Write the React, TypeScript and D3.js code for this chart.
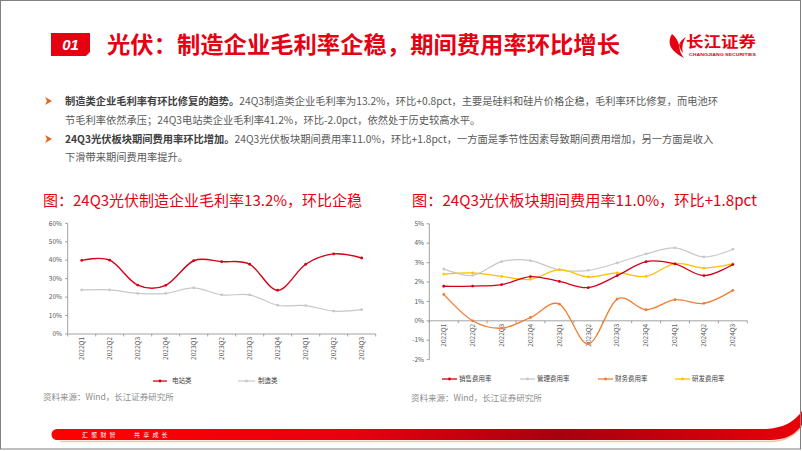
import React from "react";
import * as d3 from "d3";

const quarters = ["2022Q1","2022Q2","2022Q3","2022Q4","2023Q1","2023Q2","2023Q3","2023Q4","2024Q1","2024Q2","2024Q3"];
// left chart: gross margin (%)
const powerStation = [39.9, 40.0, 26.5, 26.4, 39.7, 39.2, 37.8, 23.7, 37.8, 43.4, 41.2];
const manufacturing = [23.9, 23.9, 22.0, 22.0, 25.0, 21.2, 21.2, 15.6, 15.4, 12.4, 13.2];
const leftTicks = [0, 10, 20, 30, 40, 50, 60];
// right chart: expense ratios (%)
const salesRate = [1.78, 1.79, 1.86, 2.28, 2.03, 1.71, 2.33, 3.05, 2.93, 2.33, 2.9];
const mgmtRate = [2.67, 2.34, 3.05, 3.1, 2.62, 2.6, 2.98, 3.45, 3.76, 3.29, 3.69];
const finRate = [1.36, 0.0, -0.38, 0.17, 0.86, -1.19, 1.12, 0.57, 1.09, 0.9, 1.57];
const rdRate = [2.41, 2.47, 2.29, 2.14, 2.64, 2.26, 2.47, 2.29, 2.95, 2.72, 2.93];
const rightTicks = [-2, -1, 0, 1, 2, 3, 4, 5];

const FONT = "'Noto Sans CJK SC', 'Noto Sans', sans-serif";
const RED = "#e60012";

const curve = d3.curveCardinal.tension(0);

function LineSeries({ data, x, y, color, width = 1.3 }: any) {
  const line = d3.line<number>()
    .x((_, i) => (x(quarters[i]) as number) + x.bandwidth() / 2)
    .y((d) => y(d))
    .curve(curve);
  return (
    <g>
      <path d={line(data) || ""} fill="none" stroke={color} strokeWidth={width} />
      {data.map((d: number, i: number) => (
        <circle key={i} cx={(x(quarters[i]) as number) + x.bandwidth() / 2} cy={y(d)} r={1.4} fill={color} />
      ))}
    </g>
  );
}

function LeftChart() {
  const x = d3.scaleBand<string>().domain(quarters).range([67.7, 375.7]).padding(0);
  const y = d3.scaleLinear().domain([0, 60]).range([334, 223.3]);
  const boundaries = quarters.map((q) => x(q) as number).concat([375.7]);
  return (
    <g>
      <text x={43} y={206} fontFamily={FONT} fontSize={15} fill={RED}>图：24Q3光伏制造企业毛利率13.2%，环比企稳</text>
      <line x1={67.7} x2={67.7} y1={y(60)} y2={y(0)} stroke="#8c8c8c" strokeWidth={0.8} />
      {leftTicks.map((t) => (
        <g key={t}>
          <line x1={65} x2={67.7} y1={y(t)} y2={y(t)} stroke="#8c8c8c" strokeWidth={0.8} />
          <text x={62} y={y(t)} dy="0.35em" textAnchor="end" fontFamily={FONT} fontSize={6.5} fill="#595959">{t}%</text>
        </g>
      ))}
      <line x1={67.7} x2={375.7} y1={y(0)} y2={y(0)} stroke="#8c8c8c" strokeWidth={0.8} />
      {boundaries.map((b, i) => (
        <line key={i} x1={b} x2={b} y1={y(0)} y2={y(0) + 2.5} stroke="#8c8c8c" strokeWidth={0.8} />
      ))}
      {quarters.map((q) => (
        <text key={q} transform={`translate(${(x(q) as number) + x.bandwidth() / 2},${y(0) + 3}) rotate(-90)`}
          textAnchor="end" dy="0.35em" fontFamily={FONT} fontSize={6.5} fill="#595959">{q}</text>
      ))}
      <LineSeries data={manufacturing} x={x} y={y} color="#c8c8c8" width={1.2} />
      <LineSeries data={powerStation} x={x} y={y} color="#d40018" width={1.4} />
      {/* legend */}
      <line x1={153} x2={167} y1={381} y2={381} stroke="#d40018" strokeWidth={1.3} />
      <circle cx={160} cy={381} r={1.4} fill="#d40018" />
      <text x={172} y={381} dy="0.35em" fontFamily={FONT} fontSize={6.5} fill="#404040">电站类</text>
      <line x1={238} x2={255} y1={381} y2={381} stroke="#c8c8c8" strokeWidth={1.2} />
      <circle cx={246.5} cy={381} r={1.4} fill="#c8c8c8" />
      <text x={258} y={381} dy="0.35em" fontFamily={FONT} fontSize={6.5} fill="#404040">制造类</text>
      <text x={43} y={397} dy="0.35em" fontFamily={FONT} fontSize={8.5} fill="#8c8c8c">资料来源：Wind，长江证券研究所</text>
    </g>
  );
}

function RightChart() {
  const x = d3.scaleBand<string>().domain(quarters).range([429.3, 747.3]).padding(0);
  const y = d3.scaleLinear().domain([-2, 5]).range([359.6, 223.8]);
  const boundaries = quarters.map((q) => x(q) as number).concat([747.3]);
  const legend = [
    { name: "销售费用率", color: "#d40018", x: 442 },
    { name: "管理费用率", color: "#c8c8c8", x: 520 },
    { name: "财务费用率", color: "#f07d32", x: 598 },
    { name: "研发费用率", color: "#ffc000", x: 675 },
  ];
  return (
    <g>
      <text x={412} y={206} fontFamily={FONT} fontSize={15.2} fill={RED}>图：24Q3光伏板块期间费用率11.0%，环比+1.8pct</text>
      <line x1={429.3} x2={429.3} y1={y(5)} y2={y(-2)} stroke="#8c8c8c" strokeWidth={0.8} />
      {rightTicks.map((t) => (
        <g key={t}>
          <line x1={426.5} x2={429.3} y1={y(t)} y2={y(t)} stroke="#8c8c8c" strokeWidth={0.8} />
          <text x={424} y={y(t)} dy="0.35em" textAnchor="end" fontFamily={FONT} fontSize={6.5} fill="#595959">{t}%</text>
        </g>
      ))}
      <line x1={429.3} x2={747.3} y1={y(0)} y2={y(0)} stroke="#8c8c8c" strokeWidth={0.8} />
      {boundaries.map((b, i) => (
        <line key={i} x1={b} x2={b} y1={y(0)} y2={y(0) + 2.5} stroke="#8c8c8c" strokeWidth={0.8} />
      ))}
      {quarters.map((q) => (
        <text key={q} transform={`translate(${(x(q) as number) + x.bandwidth() / 2},${y(0) + 3}) rotate(-90)`}
          textAnchor="end" dy="0.35em" fontFamily={FONT} fontSize={6.5} fill="#595959">{q}</text>
      ))}
      <LineSeries data={mgmtRate} x={x} y={y} color="#c8c8c8" width={1.2} />
      <LineSeries data={rdRate} x={x} y={y} color="#ffc000" width={1.3} />
      <LineSeries data={finRate} x={x} y={y} color="#f07d32" width={1.3} />
      <LineSeries data={salesRate} x={x} y={y} color="#d40018" width={1.3} />
      {legend.map((l) => (
        <g key={l.name}>
          <line x1={l.x} x2={l.x + 15} y1={379} y2={379} stroke={l.color} strokeWidth={1.3} />
          <circle cx={l.x + 7.5} cy={379} r={1.4} fill={l.color} />
          <text x={l.x + 17} y={379} dy="0.35em" fontFamily={FONT} fontSize={6.5} fill="#404040">{l.name}</text>
        </g>
      ))}
      <text x={411} y={398} dy="0.35em" fontFamily={FONT} fontSize={8.5} fill="#8c8c8c">资料来源：Wind，长江证券研究所</text>
    </g>
  );
}

function Bullets() {
  const lines = [
    { y: 101, arrow: true, bold: "制造类企业毛利率有环比修复的趋势。", text: "24Q3制造类企业毛利率为13.2%，环比+0.8pct，主要是硅料和硅片价格企稳，毛利率环比修复，而电池环" },
    { y: 120, arrow: false, bold: "", text: "节毛利率依然承压；24Q3电站类企业毛利率41.2%，环比-2.0pct，依然处于历史较高水平。" },
    { y: 139, arrow: true, bold: "24Q3光伏板块期间费用率环比增加。", text: "24Q3光伏板块期间费用率11.0%，环比+1.8pct，一方面是季节性因素导致期间费用增加，另一方面是收入" },
    { y: 157, arrow: false, bold: "", text: "下滑带来期间费用率提升。" },
  ];
  return (
    <g>
      {lines.map((l, i) => (
        <g key={i}>
          {l.arrow && (
            <path d={`M45,${l.y - 4} L52,${l.y} L45,${l.y + 4} L47,${l.y} Z`} fill="#e8631a" />
          )}
          <text x={65} y={l.y} dy="0.35em" fontFamily={FONT} fontSize={10.25} fill="#595959">
            {l.bold && <tspan fontWeight="bold" fill="#404040">{l.bold}</tspan>}
            <tspan>{l.text}</tspan>
          </text>
        </g>
      ))}
    </g>
  );
}

function Header() {
  return (
    <g>
      <path d="M51,33 L90,33 L90,52 L86,56 L51,56 Z" fill={RED} />
      <text x={70.5} y={45} dy="0.36em" textAnchor="middle" fontFamily="'Liberation Sans', Arial, sans-serif"
        fontStyle="italic" fontWeight="bold" fontSize={15} fill="#fff">01</text>
      <text x={107} y={45} dy="0.36em" fontFamily={FONT} fontWeight="bold" fontSize={23} fill={RED}
        textLength={513} lengthAdjust="spacingAndGlyphs">光伏：制造企业毛利率企稳，期间费用率环比增长</text>
      {/* logo */}
      <g>
        <path d="M672,34 C668,40 669,47 675,52 C678,55 682,57 684,58 C680,53 678,47 681,42 C679,46 680,50 683,53 C681,46 684,40 686,37 C682,39 680,42 679,45 C678,41 676,37 672,34 Z" fill={RED} />
        <text x={686} y={42} dy="0.36em" fontFamily={FONT} fontWeight="bold" fontSize={14.5} fill={RED}
          textLength={70} lengthAdjust="spacingAndGlyphs">长江证券</text>
        <text x={689} y={54.5} dy="0.36em" fontFamily="'Liberation Sans', sans-serif" fontWeight="bold" fontSize={4.4} fill={RED}
          textLength={67} lengthAdjust="spacingAndGlyphs">CHANGJIANG SECURITIES</text>
      </g>
    </g>
  );
}

function Footer() {
  return (
    <g>
      <defs>
        <linearGradient id="barGrad" x1="0" x2="1" y1="0" y2="0">
          <stop offset="0" stopColor="#ff0000" />
          <stop offset="0.4" stopColor="#e8000f" />
          <stop offset="0.68" stopColor="#a6000f" />
          <stop offset="0.88" stopColor="#d0000c" />
          <stop offset="1" stopColor="#e8000a" />
        </linearGradient>
      </defs>
      <path d="M60,441.5 L770,441.5 C786,441.5 796,434 802,426" fill="none" stroke="#f3c8a4" strokeWidth={1.6} />
      <path d="M57,429 L762,429 C784,429 795,421 802,411 L802,425 C795,435 785,440 770,440 L57,440 A5.5,5.5 0 0 1 57,429 Z"
        fill="url(#barGrad)" />
      <text x={82} y={434.5} dy="0.35em" fontFamily={FONT} fontSize={6} fill="#fff" letterSpacing={3.2}>汇聚财智</text>
      <text x={134} y={434.5} dy="0.35em" fontFamily={FONT} fontSize={6} fill="#fff" letterSpacing={3.2}>共享成长</text>
    </g>
  );
}

export default function App() {
  return (
    <svg width={802} height={451} viewBox="0 0 802 451"
      style={{ position: "absolute", left: 0, top: 0, background: "#fff" }}>
      <rect x={0} y={0} width={802} height={451} fill="#fff" />
      <Header />
      <Bullets />
      <LeftChart />
      <RightChart />
      <Footer />
      <rect x={0.5} y={0.5} width={800} height={448.5} fill="none" stroke="#808080" strokeWidth={1} />
    </svg>
  );
}
